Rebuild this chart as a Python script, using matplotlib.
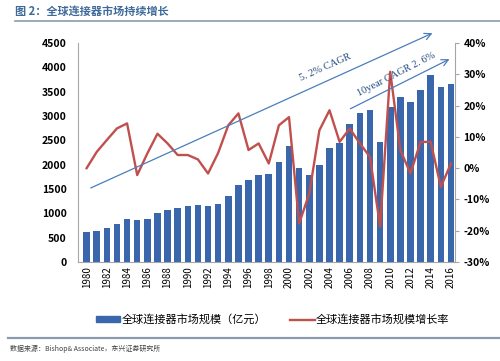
import matplotlib
matplotlib.use("Agg")
import matplotlib.pyplot as plt
from matplotlib.lines import Line2D
from matplotlib.patches import Patch
from matplotlib.ticker import FuncFormatter

plt.rcParams['font.family'] = ['Noto Sans CJK SC', 'DejaVu Sans']

# 数据
years = list(range(1980, 2017))
market = [613, 640, 695, 785, 893, 859, 893, 1002, 1077, 1118,
          1145, 1179, 1152, 1200, 1363, 1588, 1677, 1793, 1813, 2052,
          2380, 1929, 1780, 1984, 2345, 2440, 2836, 3061, 3122, 2460,
          3177, 3381, 3279, 3538, 3838, 3599, 3654]
growth = [0.0, 5.2, 9.0, 12.7, 14.3, -2.2, 4.7, 11.0, 7.9, 4.2,
          4.2, 2.8, -1.7, 4.9, 13.7, 17.5, 5.8, 7.9, 1.5, 13.7,
          16.3, -17.7, -8.1, 12.1, 18.5, 8.4, 12.7, 7.9, 3.6, -18.7,
          30.8, 5.8, -1.7, 8.4, 8.4, -6.0, 1.5]
xticks = years[::2]

BLUE = '#3a66ab'
RED = '#c0504d'
ARROW = '#4a7ebb'
GRID = '#a6a6a6'

fig = plt.figure(figsize=(5.0, 3.61), dpi=100)

# 标题和分隔线
fig.text(0.03, 0.968, '图 2：全球连接器市场持续增长', fontsize=8, fontweight='bold',
         color='#3d6a99', va='center', ha='left')
fig.add_artist(Line2D([0.03, 1.0], [0.942, 0.942], color='#8a9bb0', lw=1.2))
fig.add_artist(Line2D([0.016, 1.0], [0.064, 0.064], color='#8a9bb0', lw=1.6))
fig.text(0.02, 0.033, '数据来源：Bishop& Associate，东兴证券研究所', fontsize=5,
         style='italic', color='#404040', va='center', ha='left')

ax = fig.add_axes([0.156, 0.274, 0.754, 0.607])
ax.bar(years, market, width=0.65, color=BLUE, zorder=2)
ax.set_xlim(1980 - 0.85, 2016 + 0.4)
ax.set_ylim(0, 4500)
ax.set_yticks(range(0, 4501, 500))
ax.set_xticks(xticks)
ax.set_xticklabels([str(y) for y in xticks], rotation=90, fontsize=7)
ax.tick_params(axis='y', length=0, labelsize=7.5, pad=8)
ax.tick_params(axis='x', length=0, pad=3)
for lab in ax.get_yticklabels():
    lab.set_fontweight('bold')
for s in ['top', 'right']:
    ax.spines[s].set_visible(False)
ax.spines['left'].set_color(GRID)
ax.spines['bottom'].set_color(GRID)

ax2 = ax.twinx()
ax2.plot(years, growth, color=RED, lw=1.7, zorder=3)
ax2.set_ylim(-30, 40)
ax2.set_yticks(range(-30, 41, 10))
ax2.yaxis.set_major_formatter(FuncFormatter(lambda v, p: f'{v:.0f}%'))
ax2.tick_params(axis='y', length=3, color=GRID, labelsize=7.5, pad=3)
for lab in ax2.get_yticklabels():
    lab.set_fontweight('bold')
for s in ['top', 'left', 'bottom']:
    ax2.spines[s].set_visible(False)
ax2.spines['right'].set_color(GRID)

# CAGR 箭头
ax2.annotate('', xy=(0.947, 1.05), xytext=(0.027, 0.333), xycoords='axes fraction',
             textcoords='axes fraction',
             arrowprops=dict(arrowstyle='->', color=ARROW, lw=0.9, mutation_scale=12),
             annotation_clip=False)
ax2.annotate('', xy=(0.992, 0.932), xytext=(0.716, 0.694), xycoords='axes fraction',
             textcoords='axes fraction',
             arrowprops=dict(arrowstyle='->', color=ARROW, lw=0.9, mutation_scale=12),
             annotation_clip=False)
ax2.text(0.655, 0.89, '5. 2% CAGR', transform=ax2.transAxes, rotation=24,
         fontsize=7.5, family='Liberation Serif', color='#1f497d',
         ha='center', va='center', rotation_mode='anchor')
ax2.text(0.845, 0.855, '10year CAGR 2. 6%', transform=ax2.transAxes, rotation=27,
         fontsize=7.5, family='Liberation Serif', color='#1f497d',
         ha='center', va='center', rotation_mode='anchor')

handles = [Patch(color=BLUE), Line2D([], [], color=RED, lw=1.7)]
labels = ['全球连接器市场规模（亿元）', '全球连接器市场规模增长率']
fig.legend(handles, labels, loc='center', bbox_to_anchor=(0.545, 0.114), ncol=2,
           frameon=False, fontsize=8, handlelength=2.2, handleheight=0.5,
           handletextpad=0.1, columnspacing=2.2)

fig.savefig('out.png', dpi=100)
